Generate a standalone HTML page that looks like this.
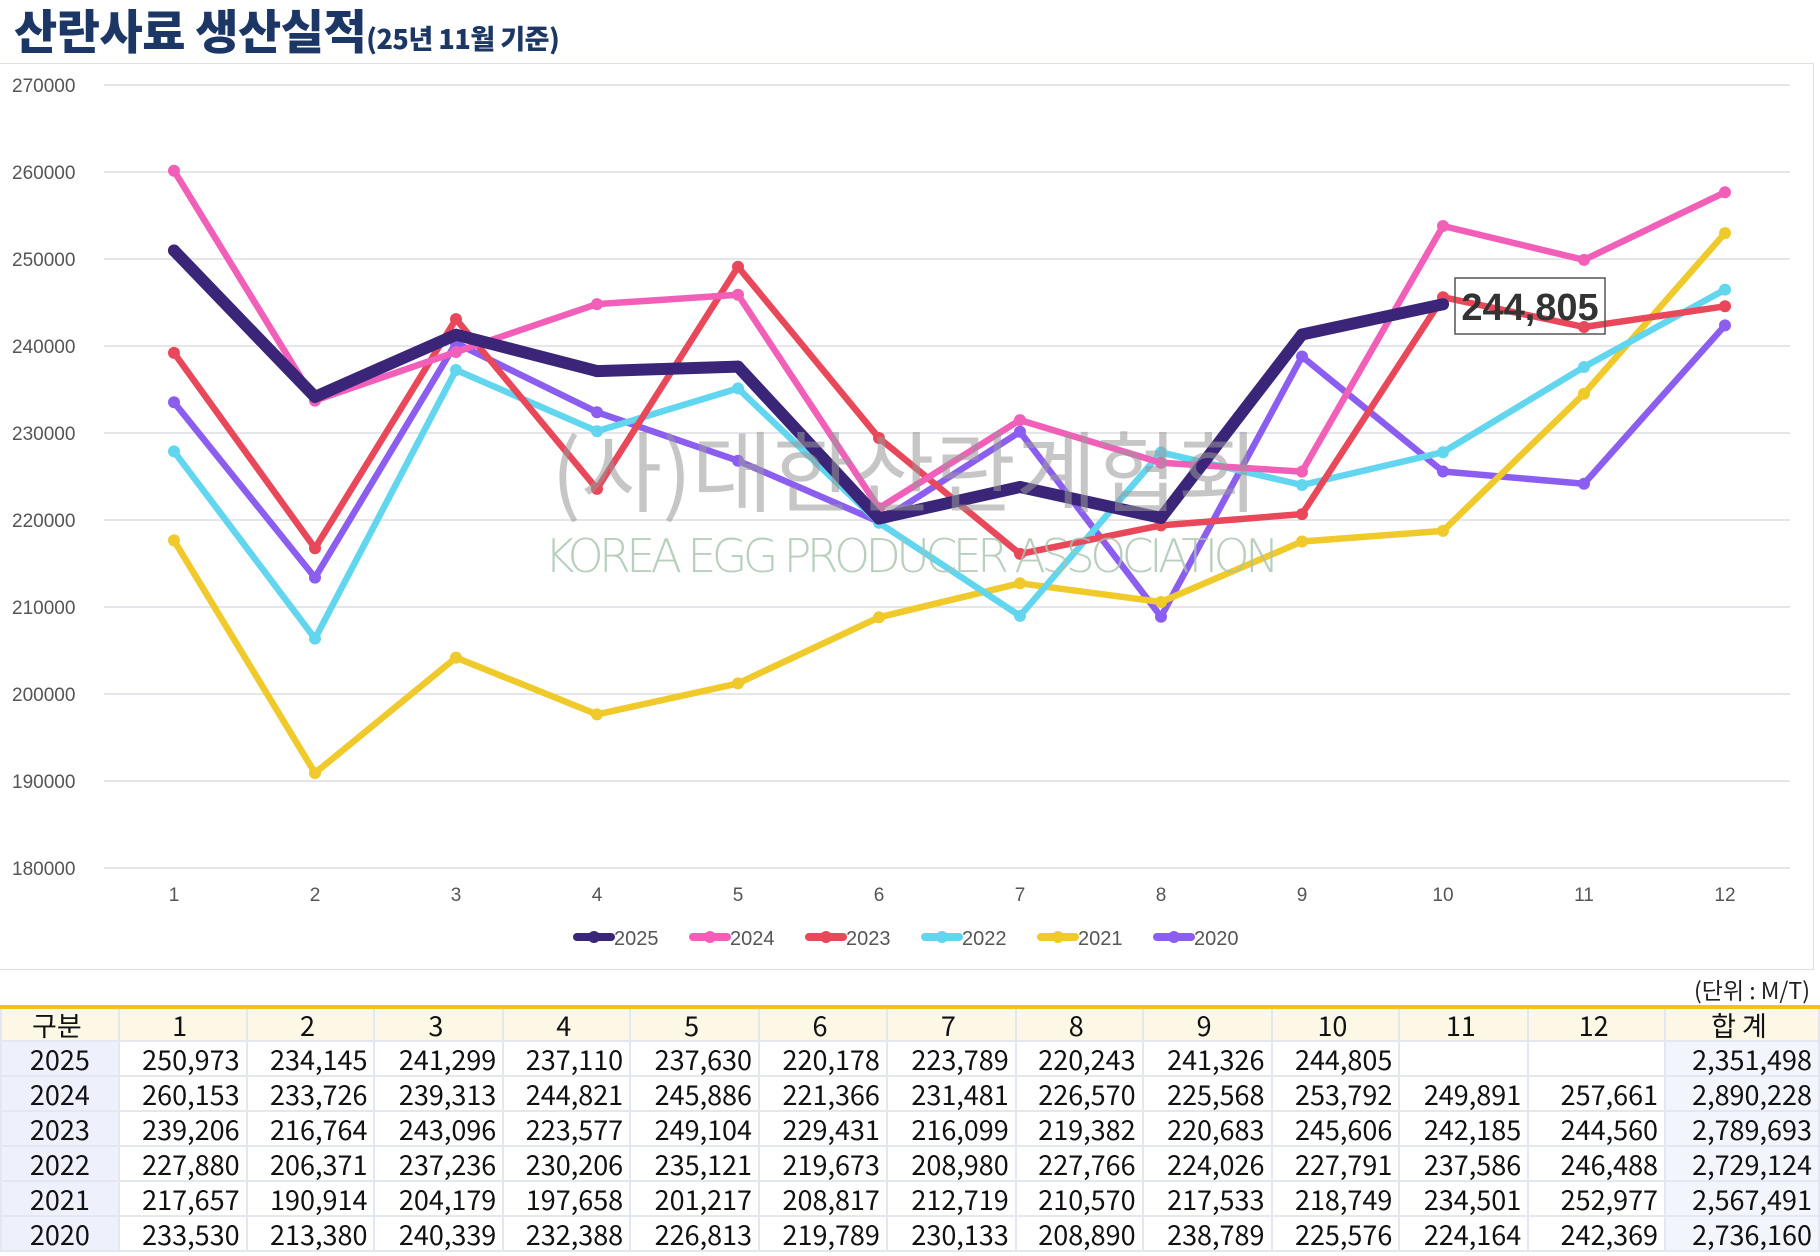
<!DOCTYPE html>
<html><head><meta charset="utf-8"><style>
body{margin:0;width:1820px;height:1256px;background:#fff;overflow:hidden;font-family:"Liberation Sans","Noto Sans CJK KR",sans-serif;position:relative}
.title{position:absolute;left:14px;top:0px;font-family:"Noto Sans CJK KR",sans-serif;font-weight:900;color:#1c3766;font-size:47px;letter-spacing:-0.5px;line-height:58px}
.title small{font-size:27px;font-weight:900}
.chartbox{position:absolute;left:0;top:63px;width:1813px;height:905px;border:1px solid #dcdfe6;border-left:none}
svg{position:absolute;left:0;top:0}
table{position:absolute;left:0;top:1005px;border-collapse:collapse;border-top:4px solid #f0c21e;font-family:"Noto Sans CJK KR","Liberation Sans",sans-serif;font-size:27px;color:#111}
td{border:2px solid #e4e7f0;height:33px;padding:0 6px 0 0;text-align:right;line-height:33px}
tr.h td{background:#fdf8e6;text-align:center;height:31px;line-height:31px}
td.f{background:#eef1fb;text-align:center;padding:0}
td.t{background:#f3f5fc}
.unit{position:absolute;right:10px;top:972px;font-family:"Noto Sans CJK KR",sans-serif;font-size:23px;color:#222}
</style></head><body>
<div class="title">산란사료 생산실적<small>(25년 11월 기준)</small></div>
<div class="chartbox"></div>
<svg id="s" width="1820" height="1000"></svg>
<div class="unit">(단위 : M/T)</div>
<table id="tb"></table>
<script>
const data={
2025:[250973,234145,241299,237110,237630,220178,223789,220243,241326,244805],
2024:[260153,233726,239313,244821,245886,221366,231481,226570,225568,253792,249891,257661],
2023:[239206,216764,243096,223577,249104,229431,216099,219382,220683,245606,242185,244560],
2022:[227880,206371,237236,230206,235121,219673,208980,227766,224026,227791,237586,246488],
2021:[217657,190914,204179,197658,201217,208817,212719,210570,217533,218749,234501,252977],
2020:[233530,213380,240339,232388,226813,219789,230133,208890,238789,225576,224164,242369]};
const tot={2025:"2,351,498",2024:"2,890,228",2023:"2,789,693",2022:"2,729,124",2021:"2,567,491",2020:"2,736,160"};
const col={2025:"#3a2578",2024:"#f15fb9",2023:"#e8485a",2022:"#62d6ef",2021:"#f0c92a",2020:"#8c5ef0"};
const X=m=>174+(m-1)*141, Y=v=>868-(v-180000)*(783/90000);
let s='';
for(let i=0;i<=9;i++){const y=868-i*87;s+=`<line x1="104" x2="1790" y1="${y}" y2="${y}" stroke="#dcdee3" stroke-width="1.5"/><text x="12" y="${y+7}" font-size="19" fill="#555" font-family="Liberation Sans">${180000+i*10000}</text>`;}
for(let m=1;m<=12;m++)s+=`<text x="${X(m)}" y="901" font-size="19" fill="#555" text-anchor="middle" font-family="Liberation Sans">${m}</text>`;
const order=[2020,2021,2022,2023,2024,2025];
for(const yr of order){const d=data[yr];const pts=d.map((v,i)=>X(i+1)+','+Y(v).toFixed(1)).join(' ');
s+=`<polyline points="${pts}" fill="none" stroke="${col[yr]}" stroke-width="${yr==2025?12:6.5}" stroke-linejoin="round" stroke-linecap="round"/>`;
d.forEach((v,i)=>s+=`<circle cx="${X(i+1)}" cy="${Y(v).toFixed(1)}" r="6" fill="${col[yr]}"/>`);}
s+=`<text x="905" y="505" font-size="88" fill="#999" opacity="0.55" text-anchor="middle" font-family="Noto Sans CJK KR">(사)대한산란계협회</text>`;
s+=`<text x="912" y="572" font-size="46" fill="#a8c4ae" opacity="0.8" text-anchor="middle" font-family="DejaVu Sans" font-weight="200" textLength="735">KOREA EGG PRODUCER ASSOCIATION</text>`;
s+=`<rect x="1455" y="278" width="150" height="56" fill="none" stroke="#555" stroke-width="1.5"/><text x="1530" y="320" font-size="38" font-weight="bold" fill="#333" text-anchor="middle" font-family="Liberation Sans">244,805</text>`;
[2025,2024,2023,2022,2021,2020].forEach((yr,i)=>{const x=577+i*116;s+=`<line x1="${x}" x2="${x+34}" y1="937" y2="937" stroke="${col[yr]}" stroke-width="8" stroke-linecap="round"/><circle cx="${x+17}" cy="937" r="6" fill="${col[yr]}"/><text x="${x+37}" y="945" font-size="20" fill="#555" font-family="Liberation Sans">${yr}</text>`;});
document.getElementById('s').innerHTML=s;
const w=[118,128,128,129,127,129,128,129,127,129,128,129,137,154];
let h='<tr class="h">'+['구분',1,2,3,4,5,6,7,8,9,10,11,12,'합 계'].map((t,i)=>`<td style="width:${w[i]-8}px">${t}</td>`).join('')+'</tr>';
for(const yr of [2025,2024,2023,2022,2021,2020]){h+=`<tr><td class="f">${yr}</td>`;for(let i=0;i<12;i++){const v=data[yr][i];h+=`<td>${v?v.toLocaleString('en-US'):''}</td>`;}h+=`<td class="t">${tot[yr]}</td></tr>`;}
document.getElementById('tb').innerHTML=h;
</script>
</body></html>
